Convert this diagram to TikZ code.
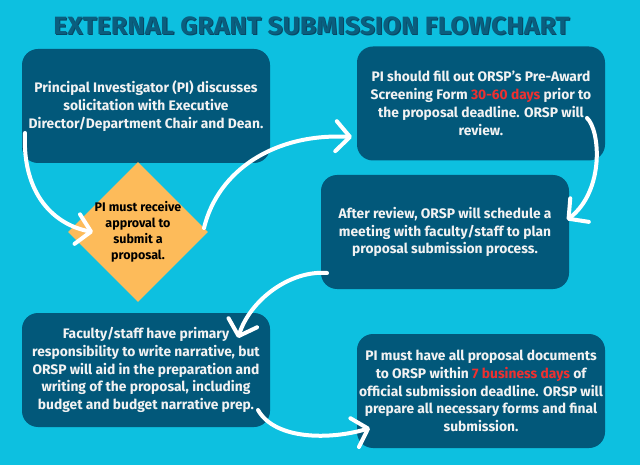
\documentclass[tikz,border=0pt]{standalone}
\usepackage{fontspec}
\setmainfont{Fira Sans}
\usepackage{graphicx}
\usetikzlibrary{shapes.geometric,arrows.meta}
\definecolor{bgcol}{HTML}{0DC0E0}
\definecolor{boxcol}{HTML}{02587A}
\definecolor{titlecol}{HTML}{0B5E7E}
\definecolor{titleshadow}{HTML}{074864}
\definecolor{diacol}{HTML}{FDBB5A}
\definecolor{redtxt}{HTML}{EE3030}
\definecolor{txtcol}{HTML}{F2F2F2}
\newcommand\shadowtitle[1]{\makebox[0pt][l]{\hspace{1pt}\raisebox{-1.2pt}{\textcolor{titleshadow}{#1}}}\textcolor{titlecol}{#1}}
\tikzset{
  stepbox/.style={fill=boxcol, rounded corners=16pt, minimum width=248pt, minimum height=114pt,
    inner sep=0pt, align=center, text=txtcol, font=\fontsize{13.8}{17.8}\selectfont\bfseries},
  diamondbox/.style={diamond, fill=diacol, minimum width=140pt, minimum height=140pt, inner sep=0pt},
  diamondtext/.style={align=center, text=black, font=\fontsize{12.5}{16}\selectfont\bfseries, inner sep=0pt},
  flow/.style={draw=white, line width=4pt, line cap=round,
    -{Straight Barb[length=14pt, width=30pt, round]}},
}
\begin{document}
\begin{tikzpicture}[x=1pt,y=-1pt]
\fill[bgcol] (0,0) rectangle (640,465);
\useasboundingbox (0,0) rectangle (640,465);
\node[inner sep=0pt, font=\fontsize{25}{28}\selectfont\bfseries] (title) at (311.5,26)
  {\scalebox{1.06}[1]{\shadowtitle{EXTERNAL GRANT SUBMISSION FLOWCHART}}};
\node[stepbox] (b1) at (146,106) {Principal Investigator (PI) discusses\\solicitation with Executive\\Director/Department Chair and Dean.};
\node[stepbox] (b2) at (481,103.5) {PI should fill out ORSP’s Pre-Award\\Screening Form \textcolor{redtxt}{30-60 days} prior to\\the proposal deadline. ORSP will\\review.};
\node[stepbox] (b3) at (445,232) {After review, ORSP will schedule a\\meeting with faculty/staff to plan\\proposal submission process.};
\node[stepbox] (b4) at (146,370) {Faculty/staff have primary\\responsibility to write narrative, but\\ORSP will aid in the preparation and\\writing of the proposal, including\\budget and budget narrative prep.};
\node[stepbox] (b5) at (481,391) {PI must have all proposal documents\\to ORSP within \textcolor{redtxt}{7 business days} of\\official submission deadline. ORSP will\\prepare all necessary forms and final\\submission.};
\node[diamondbox] (d) at (138,232) {};
\node[diamondtext] (dt) at (d.center) {PI must receive\\approval to\\submit a\\proposal.};
% connector end points
\coordinate (a1s) at (25,133);  \coordinate (a1e) at (93,232);
\coordinate (a2s) at (204,228); \coordinate (a2e) at (352,137);
\coordinate (a3s) at (587,118); \coordinate (a3e) at (567,220);
\coordinate (a4s) at (327,273); \coordinate (a4e) at (238,338);
\coordinate (a5s) at (258,410); \coordinate (a5e) at (370,428);
\draw[flow] (a1s) .. controls (22,195) and (55,225) .. (a1e);
\draw[flow] (a2s) .. controls (218,170) and (275,133) .. (a2e);
\draw[flow] (a3s) .. controls (600,130) and (605,190) .. (a3e);
\draw[flow] (a4s) .. controls (290,270) and (250,300) .. (a4e);
\draw[flow] (a5s) .. controls (275,440) and (330,440) .. (a5e);
\end{tikzpicture}
\end{document}
